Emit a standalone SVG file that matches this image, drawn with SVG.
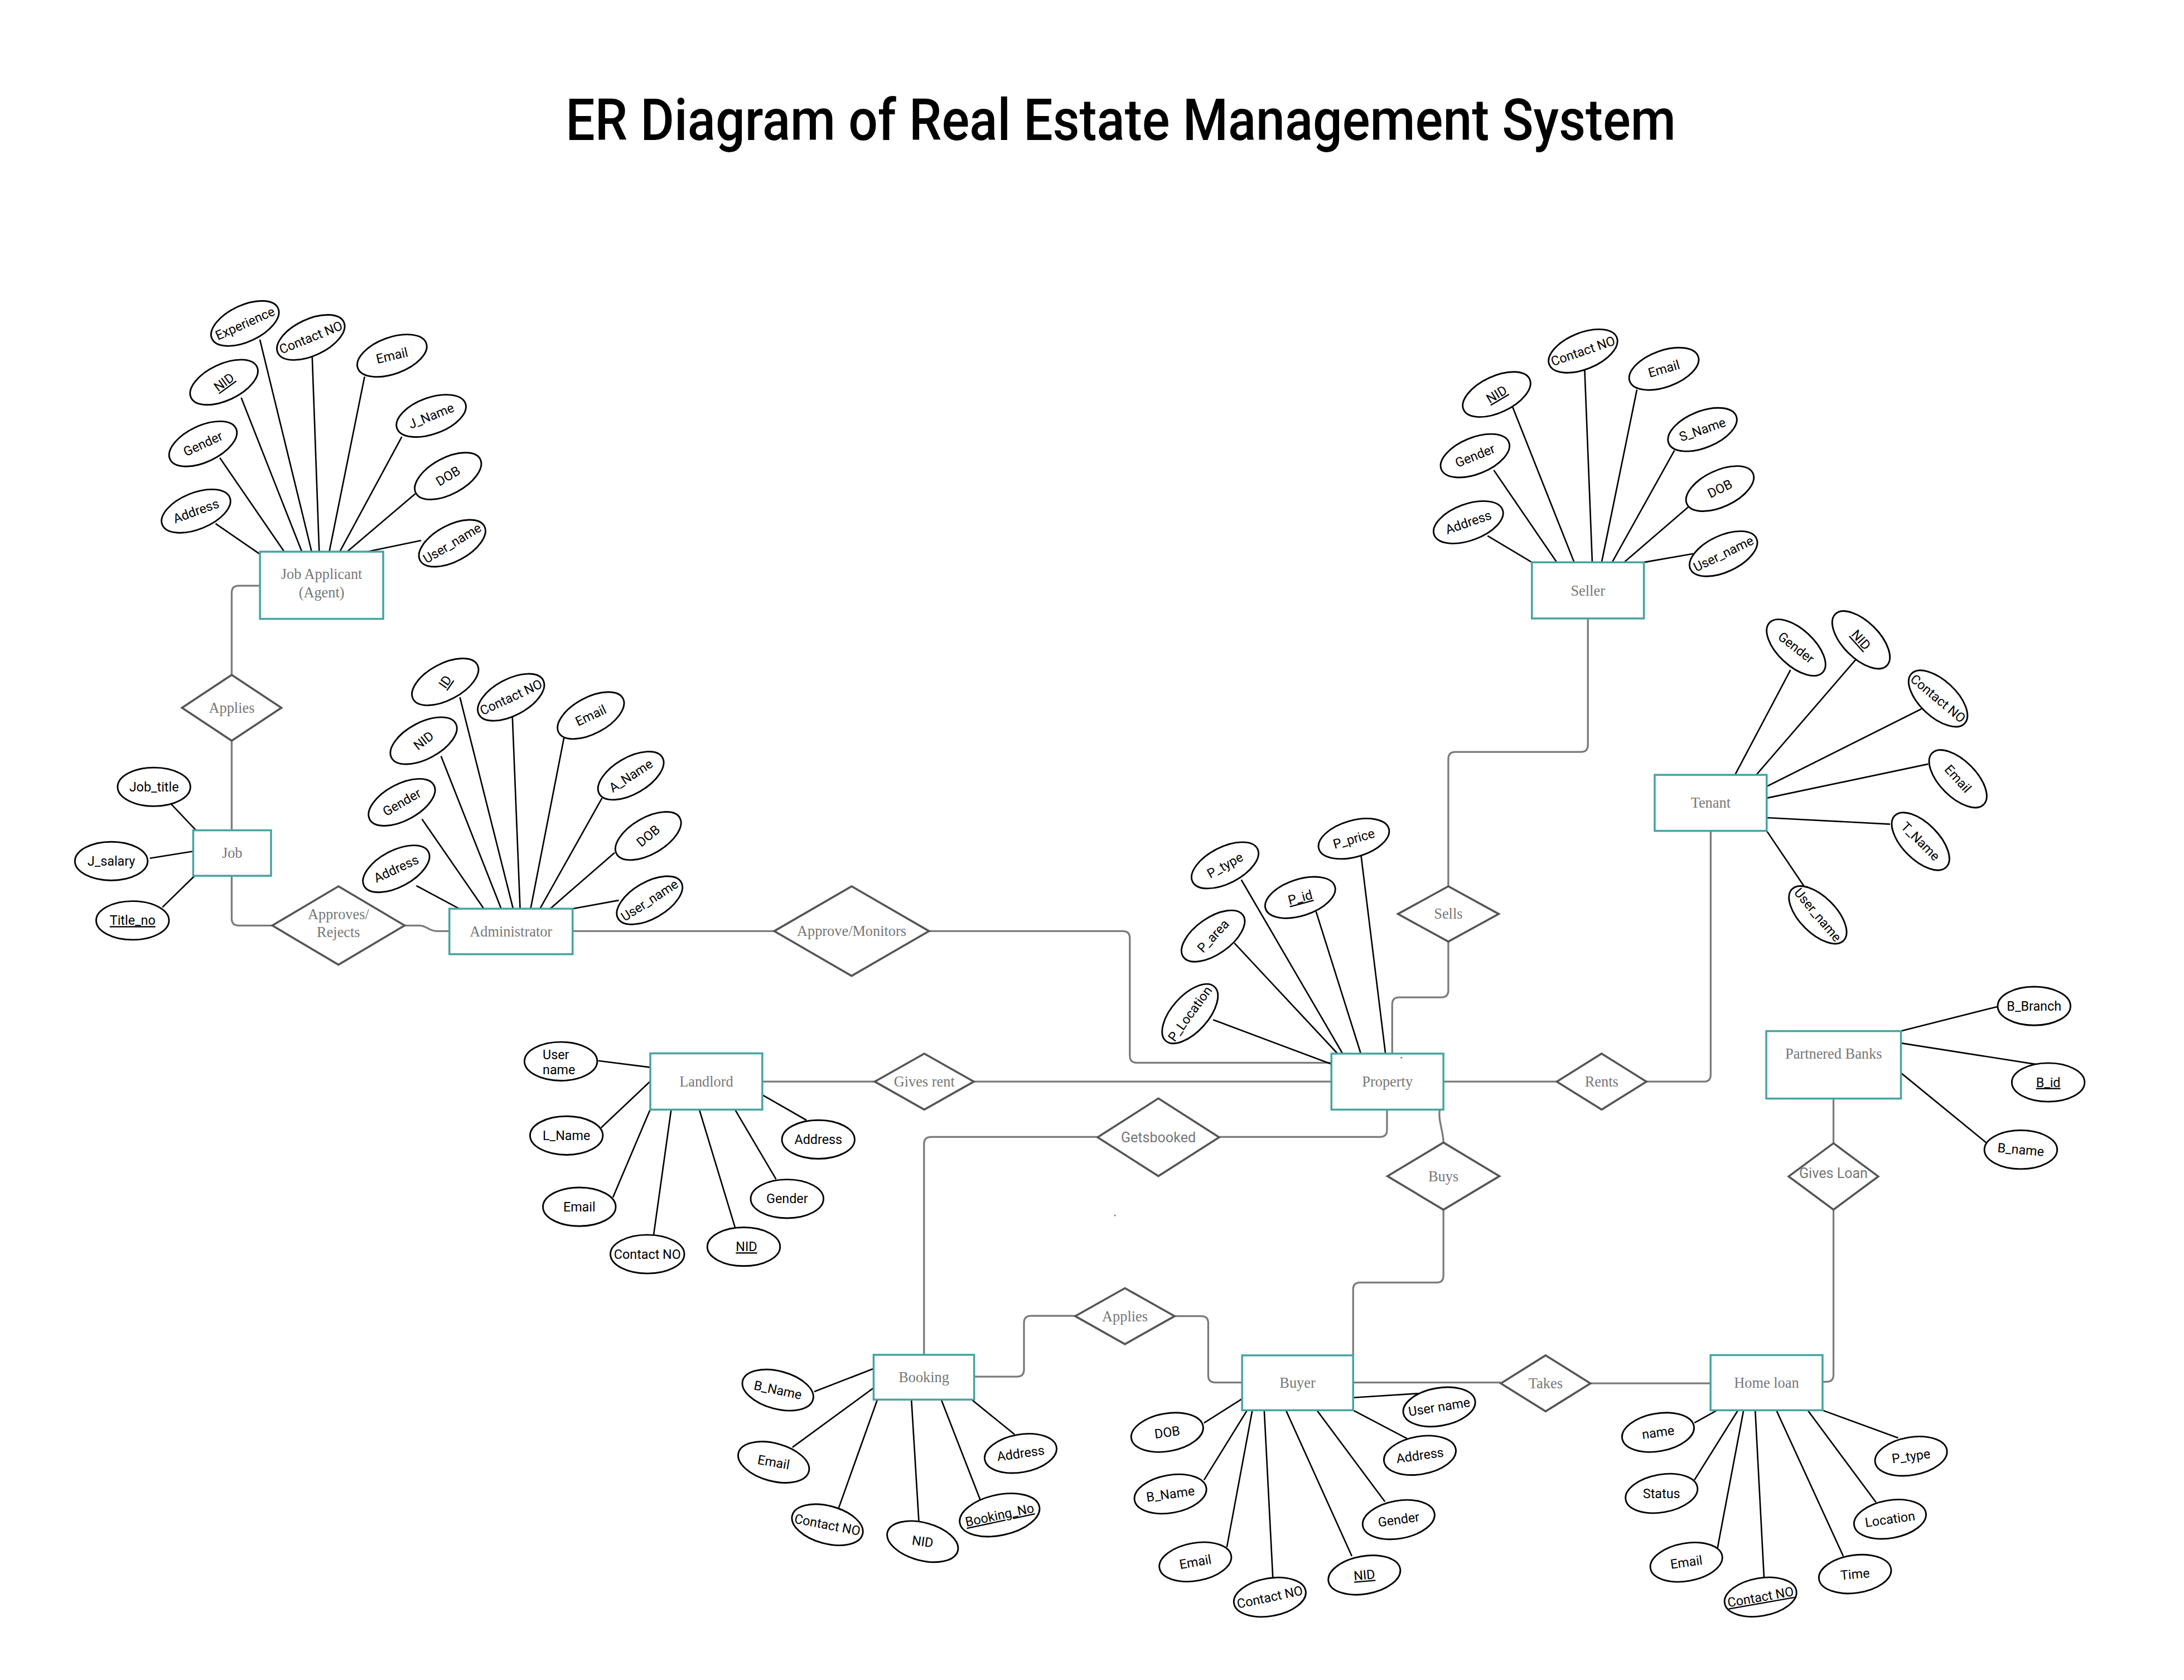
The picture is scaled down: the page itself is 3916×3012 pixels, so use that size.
<svg xmlns="http://www.w3.org/2000/svg" width="3916" height="3012" viewBox="0 0 3916 3012">
<style>
.c{fill:none;stroke:#7a7a7a;stroke-width:1.3}
.l line{stroke:#000;stroke-width:1.05}
.e rect{fill:#fff;stroke:#45a4a2;stroke-width:1.4}
.et{font-family:"Liberation Serif",serif;font-size:10.5px;fill:#767676;text-anchor:middle}
.r polygon{fill:#fff;stroke:#555;stroke-width:1.45}
.rs{font-family:Roboto,"Liberation Sans",sans-serif;font-size:10px;fill:#767676;text-anchor:middle}
.a ellipse{fill:#fff;stroke:#000;stroke-width:1.15}
.a text{font-family:Roboto,"Liberation Sans",sans-serif;font-size:9.3px;fill:#000;text-anchor:middle}
.u{text-decoration:underline}
.title{font-family:Roboto,"DejaVu Sans Condensed",sans-serif;font-weight:500;font-size:41.5px;fill:#000;text-anchor:middle}
</style>
<rect width="3916" height="3012" fill="#fff"/>
<g transform="scale(2.5103)">
<text class="title" x="800.5" y="100" textLength="793" lengthAdjust="spacingAndGlyphs">ER Diagram of Real Estate Management System</text>

<g id="connectors">
<g class="c">
<path d="M185.7,418.3 H170.5 Q165.5,418.3 165.5,423.3 V482"/>
<path d="M165.5,529 V593"/>
<path d="M165.5,625.5 V656 Q165.5,661 170.5,661 H194.5"/>
<path d="M289,661 H299.5 C305,661 306,665 312,665 H321"/>
<path d="M409,665 H553"/>
<path d="M663.6,665 H802 Q807,665 807,670 V754 Q807,759 812,759 H951"/>
<path d="M1134.2,441.7 V532 Q1134.2,537 1129.2,537 H1039.5 Q1034.5,537 1034.5,542 V633"/>
<path d="M1034.5,672.5 V707.3 Q1034.5,712.3 1029.5,712.3 H999.4 Q994.4,712.3 994.4,717.3 V752.5"/>
<path d="M1221.9,593.4 V767.5 Q1221.9,772.5 1216.9,772.5 H1176"/>
<path d="M1112,772.5 H1031"/>
<path d="M544.6,772.5 H624.8"/>
<path d="M695.6,772.5 H951"/>
<path d="M990.7,792.5 V807 Q990.7,812 985.7,812 H870.8"/>
<path d="M784,812 H665 Q660,812 660,817 V967.6"/>
<path d="M1028.4,792.5 C1027,800 1031,808 1031,816"/>
<path d="M1031,864 V911 Q1031,916 1026,916 H971.5 Q966.5,916 966.5,921 V968"/>
<path d="M1309.6,784.6 V816.5"/>
<path d="M1309.6,863.9 V981.9 Q1309.6,986.9 1304.6,986.9 H1301.8"/>
<path d="M695.8,983.2 H726.4 Q731.4,983.2 731.4,978.2 V944.8 Q731.4,939.8 736.4,939.8 H768"/>
<path d="M839,940 H858 Q863,940 863,945 V982.4 Q863,987.4 868,987.4 H887.2"/>
<path d="M966.5,987.4 H1072"/>
<path d="M1136,988 H1221.8"/>
</g>
<g class="l">
<line x1="154" y1="374" x2="186" y2="396"/>
<line x1="157" y1="327" x2="203" y2="394"/>
<line x1="172.3" y1="284" x2="215.6" y2="394"/>
<line x1="185.6" y1="242.5" x2="222.6" y2="394"/>
<line x1="223" y1="255" x2="228" y2="394"/>
<line x1="260.4" y1="269" x2="235.2" y2="394"/>
<line x1="287" y1="312" x2="242.7" y2="394"/>
<line x1="296.6" y1="352.6" x2="248" y2="394"/>
<line x1="300.8" y1="386" x2="262.3" y2="394"/>
<line x1="122" y1="574" x2="140" y2="593"/>
<line x1="107" y1="613" x2="138" y2="608"/>
<line x1="116" y1="648" x2="139" y2="625.5"/>
<line x1="297.4" y1="632.6" x2="328" y2="649"/>
<line x1="301.4" y1="585" x2="345.6" y2="649"/>
<line x1="315" y1="540" x2="358" y2="649"/>
<line x1="328.5" y1="498" x2="366.5" y2="649"/>
<line x1="366" y1="512" x2="371.5" y2="649"/>
<line x1="403" y1="526" x2="379" y2="649"/>
<line x1="430" y1="570" x2="385.7" y2="649"/>
<line x1="439" y1="609" x2="393" y2="649"/>
<line x1="442" y1="643" x2="409" y2="649"/>
<line x1="1062.5" y1="382.7" x2="1094.2" y2="401.6"/>
<line x1="1067" y1="335.8" x2="1112" y2="401.6"/>
<line x1="1080.3" y1="290.4" x2="1124.4" y2="401.6"/>
<line x1="1131.9" y1="264.5" x2="1137.3" y2="401.6"/>
<line x1="1169.2" y1="278.3" x2="1144" y2="401.6"/>
<line x1="1196" y1="321.7" x2="1151.5" y2="401.6"/>
<line x1="1206" y1="362" x2="1160" y2="401.6"/>
<line x1="1209.4" y1="395.5" x2="1174.2" y2="401.6"/>
<line x1="1278.9" y1="478.5" x2="1239.3" y2="553.4"/>
<line x1="1326.1" y1="470.4" x2="1254.5" y2="553.4"/>
<line x1="1372.4" y1="506.3" x2="1261.9" y2="561.7"/>
<line x1="1377.2" y1="545.7" x2="1261.9" y2="570"/>
<line x1="1350" y1="588.6" x2="1261.9" y2="584"/>
<line x1="1288.6" y1="633" x2="1261.9" y2="593.4"/>
<line x1="972" y1="609.6" x2="989.6" y2="752.5"/>
<line x1="940" y1="651" x2="972" y2="752.5"/>
<line x1="886.6" y1="628.3" x2="959" y2="752.5"/>
<line x1="881.7" y1="673.6" x2="955.4" y2="752.5"/>
<line x1="866.5" y1="728.3" x2="951" y2="760"/>
<line x1="427.2" y1="757.6" x2="464.5" y2="762.3"/>
<line x1="429.4" y1="805.4" x2="464.5" y2="772.2"/>
<line x1="437.8" y1="855.2" x2="464.5" y2="792.2"/>
<line x1="466.8" y1="882.5" x2="479.4" y2="792.5"/>
<line x1="525" y1="876.5" x2="499.5" y2="792.5"/>
<line x1="554.3" y1="842.2" x2="525" y2="792.5"/>
<line x1="576" y1="800" x2="544.6" y2="782"/>
<line x1="1357.8" y1="736.4" x2="1426.9" y2="718.9"/>
<line x1="1357.8" y1="745" x2="1455.5" y2="760.3"/>
<line x1="1357.8" y1="766.3" x2="1418.6" y2="816"/>
<line x1="581.6" y1="993.9" x2="624" y2="977.5"/>
<line x1="566" y1="1033.7" x2="624" y2="991.2"/>
<line x1="598.8" y1="1077.7" x2="626.7" y2="999.6"/>
<line x1="656.3" y1="1086.4" x2="651" y2="999.6"/>
<line x1="700.2" y1="1071.3" x2="672.3" y2="999.6"/>
<line x1="724.7" y1="1024.5" x2="694" y2="999.6"/>
<line x1="966.5" y1="998.2" x2="1013.3" y2="995.2"/>
<line x1="966.5" y1="1007.2" x2="1005" y2="1027.4"/>
<line x1="940.6" y1="1007.2" x2="989.2" y2="1072.5"/>
<line x1="918.5" y1="1007.2" x2="965.6" y2="1111.4"/>
<line x1="903" y1="1007.2" x2="909.2" y2="1127.5"/>
<line x1="894.5" y1="1007.2" x2="876.3" y2="1105"/>
<line x1="890.8" y1="1007.2" x2="860" y2="1057"/>
<line x1="887.2" y1="999" x2="860" y2="1016.3"/>
<line x1="1210.3" y1="1016.2" x2="1226.5" y2="1007.2"/>
<line x1="1210.3" y1="1057" x2="1241.4" y2="1007.2"/>
<line x1="1226.8" y1="1105.4" x2="1245.4" y2="1007.2"/>
<line x1="1260" y1="1126.8" x2="1253.7" y2="1007.2"/>
<line x1="1316.6" y1="1111.4" x2="1268.8" y2="1007.2"/>
<line x1="1340" y1="1073" x2="1291.2" y2="1007.2"/>
<line x1="1355.8" y1="1027" x2="1301.8" y2="1007.2"/>
</g>
</g>

<g class="e">
<g id="ent-jobapplicant"><rect x="185.7" y="394" width="88" height="48"/><text class="et" x="229.7" y="413.5">Job Applicant</text><text class="et" x="229.7" y="426.7">(Agent)</text></g>
<g id="ent-job"><rect x="138" y="593" width="55.6" height="32.5"/><text class="et" x="165.8" y="612.8">Job</text></g>
<g id="ent-admin"><rect x="321" y="649" width="88" height="32.5"/><text class="et" x="365" y="668.8">Administrator</text></g>
<g id="ent-seller"><rect x="1094.2" y="401.6" width="80" height="40.1"/><text class="et" x="1134.2" y="425.3">Seller</text></g>
<g id="ent-tenant"><rect x="1181.9" y="553.4" width="80" height="40"/><text class="et" x="1221.9" y="577">Tenant</text></g>
<g id="ent-property"><rect x="951" y="752.5" width="80" height="40"/><text class="et" x="991" y="776.1">Property</text></g>
<g id="ent-landlord"><rect x="464.5" y="752.3" width="80" height="40.2"/><text class="et" x="504.5" y="776">Landlord</text></g>
<g id="ent-banks"><rect x="1261.6" y="736.4" width="96.2" height="48.2"/><text class="et" x="1309.7" y="755.9">Partnered Banks</text></g>
<g id="ent-booking"><rect x="624" y="967.6" width="71.8" height="32"/><text class="et" x="659.9" y="987.2">Booking</text></g>
<g id="ent-buyer"><rect x="887.2" y="968" width="79.3" height="39.2"/><text class="et" x="926.8" y="991.2">Buyer</text></g>
<g id="ent-homeloan"><rect x="1221.8" y="967.8" width="80" height="39.4"/><text class="et" x="1261.8" y="991.1">Home loan</text></g>
</g>

<g class="r">
<g id="rel-applies1"><polygon points="165.5,482 201,505.5 165.5,529 130,505.5"/><text class="et" x="165.5" y="509.1">Applies</text></g>
<g id="rel-approves"><polygon points="241.75,633 289,661 241.75,689 194.5,661"/><text class="et" x="241.75" y="656.7">Approves/</text><text class="et" x="241.75" y="669.1">Rejects</text></g>
<g id="rel-approvemon"><polygon points="608.3,633 663.6,665 608.3,697 553,665"/><text class="et" x="608.3" y="668.6">Approve/Monitors</text></g>
<g id="rel-sells"><polygon points="1034.5,633 1070.5,652.75 1034.5,672.5 998.5,652.75"/><text class="et" x="1034.5" y="656.3">Sells</text></g>
<g id="rel-givesrent"><polygon points="660.2,752.5 695.6,772.5 660.2,792.5 624.8,772.5"/><text class="et" x="660.2" y="776.1">Gives rent</text></g>
<g id="rel-rents"><polygon points="1144,752.5 1176,772.5 1144,792.5 1112,772.5"/><text class="et" x="1144" y="776.1">Rents</text></g>
<g id="rel-getsbooked"><polygon points="827.4,784.5 870.8,812.25 827.4,840 784,812.25"/><text class="rs" x="827.4" y="815.8" font-size="10.5">Getsbooked</text></g>
<g id="rel-buys"><polygon points="1031,816 1071,840 1031,864 991,840"/><text class="et" x="1031" y="843.6">Buys</text></g>
<g id="rel-givesloan"><polygon points="1309.6,816.5 1341.6,840.2 1309.6,863.9 1277.6,840.2"/><text class="rs" x="1309.6" y="841.5" font-size="9.5">Gives Loan</text></g>
<g id="rel-applies2"><polygon points="803.5,920 839,940 803.5,960 768,940"/><text class="et" x="803.5" y="943.6">Applies</text></g>
<g id="rel-takes"><polygon points="1104,968 1136,988 1104,1008 1072,988"/><text class="et" x="1104" y="991.6">Takes</text></g>
</g>

<g class="a">
<g id="ja-experience" transform="translate(175,231)"><ellipse rx="26" ry="13" transform="rotate(-25)"/><text transform="rotate(-24)" dy="3.2">Experience</text></g>
<g id="ja-contact" transform="translate(222,241)"><ellipse rx="26" ry="13" transform="rotate(-25)"/><text transform="rotate(-22)" dy="3.2">Contact NO</text></g>
<g id="ja-email" transform="translate(280,254)"><ellipse rx="26" ry="13" transform="rotate(-20)"/><text transform="rotate(-13)" dy="3.2">Email</text></g>
<g id="ja-nid" transform="translate(160,273)"><ellipse rx="26" ry="13" transform="rotate(-25)"/><text class="u" transform="rotate(-36)" dy="3.2">NID</text></g>
<g id="ja-jname" transform="translate(308,297)"><ellipse rx="26" ry="13" transform="rotate(-20)"/><text transform="rotate(-22)" dy="3.2">J_Name</text></g>
<g id="ja-gender" transform="translate(145,317)"><ellipse rx="26" ry="13" transform="rotate(-25)"/><text transform="rotate(-25)" dy="3.2">Gender</text></g>
<g id="ja-dob" transform="translate(320,340)"><ellipse rx="26" ry="13" transform="rotate(-28)"/><text transform="rotate(-31)" dy="3.2">DOB</text></g>
<g id="ja-address" transform="translate(140,365)"><ellipse rx="26" ry="13" transform="rotate(-22)"/><text transform="rotate(-20)" dy="3.2">Address</text></g>
<g id="ja-username" transform="translate(323,388)"><ellipse rx="26" ry="13" transform="rotate(-28)"/><text transform="rotate(-31)" dy="3.2">User_name</text></g>

<g id="job-title" transform="translate(110,562)"><ellipse rx="26" ry="13.8"/><text dy="3.2">Job_title</text></g>
<g id="job-salary" transform="translate(79.5,615)"><ellipse rx="26" ry="13.8"/><text dy="3.2">J_salary</text></g>
<g id="job-titleno" transform="translate(94.7,657.4)"><ellipse rx="26" ry="13.8"/><text class="u" dy="3.2">Title_no</text></g>

<g id="ad-id" transform="translate(318,487)"><ellipse rx="26" ry="13" transform="rotate(-28)"/><text class="u" transform="rotate(-55)" dy="3.2">ID</text></g>
<g id="ad-contact" transform="translate(365,498)"><ellipse rx="26" ry="13" transform="rotate(-28)"/><text transform="rotate(-25)" dy="3.2">Contact NO</text></g>
<g id="ad-email" transform="translate(422,511)"><ellipse rx="26" ry="13" transform="rotate(-28)"/><text transform="rotate(-25)" dy="3.2">Email</text></g>
<g id="ad-nid" transform="translate(302.6,529)"><ellipse rx="26" ry="13" transform="rotate(-28)"/><text transform="rotate(-38)" dy="3.2">NID</text></g>
<g id="ad-aname" transform="translate(450.6,554)"><ellipse rx="26" ry="13" transform="rotate(-30)"/><text transform="rotate(-33)" dy="3.2">A_Name</text></g>
<g id="ad-gender" transform="translate(287,573)"><ellipse rx="26" ry="13" transform="rotate(-28)"/><text transform="rotate(-30)" dy="3.2">Gender</text></g>
<g id="ad-dob" transform="translate(463,597)"><ellipse rx="26" ry="13" transform="rotate(-30)"/><text transform="rotate(-40)" dy="3.2">DOB</text></g>
<g id="ad-address" transform="translate(283,620.5)"><ellipse rx="26" ry="13" transform="rotate(-28)"/><text transform="rotate(-25)" dy="3.2">Address</text></g>
<g id="ad-username" transform="translate(464,643)"><ellipse rx="26" ry="13" transform="rotate(-30)"/><text transform="rotate(-33)" dy="3.2">User_name</text></g>

<g id="se-contact" transform="translate(1130.7,250.7)"><ellipse rx="26" ry="13" transform="rotate(-22)"/><text transform="rotate(-19)" dy="3.2">Contact NO</text></g>
<g id="se-email" transform="translate(1188.5,263.4)"><ellipse rx="26" ry="13" transform="rotate(-20)"/><text transform="rotate(-16)" dy="3.2">Email</text></g>
<g id="se-nid" transform="translate(1069,281.7)"><ellipse rx="26" ry="13" transform="rotate(-25)"/><text class="u" transform="rotate(-31)" dy="3.2">NID</text></g>
<g id="se-sname" transform="translate(1216,306.8)"><ellipse rx="26" ry="13" transform="rotate(-22)"/><text transform="rotate(-19)" dy="3.2">S_Name</text></g>
<g id="se-gender" transform="translate(1053.6,325.5)"><ellipse rx="26" ry="13" transform="rotate(-22)"/><text transform="rotate(-22)" dy="3.2">Gender</text></g>
<g id="se-dob" transform="translate(1228.5,349)"><ellipse rx="26" ry="13" transform="rotate(-25)"/><text transform="rotate(-26)" dy="3.2">DOB</text></g>
<g id="se-address" transform="translate(1048.8,373)"><ellipse rx="26" ry="13" transform="rotate(-20)"/><text transform="rotate(-19)" dy="3.2">Address</text></g>
<g id="se-username" transform="translate(1231,395.5)"><ellipse rx="26" ry="13" transform="rotate(-25)"/><text transform="rotate(-26)" dy="3.2">User_name</text></g>

<g id="te-gender" transform="translate(1282.9,462.5)"><ellipse rx="26" ry="13" transform="rotate(43)"/><text transform="rotate(38)" dy="3.2">Gender</text></g>
<g id="te-nid" transform="translate(1329.3,457)"><ellipse rx="26" ry="13" transform="rotate(45)"/><text class="u" transform="rotate(48)" dy="3.2">NID</text></g>
<g id="te-contact" transform="translate(1384.3,498.9)"><ellipse rx="26" ry="13" transform="rotate(43)"/><text transform="rotate(40)" dy="3.2">Contact NO</text></g>
<g id="te-email" transform="translate(1398.5,556.2)"><ellipse rx="26" ry="13" transform="rotate(45)"/><text transform="rotate(48)" dy="3.2">Email</text></g>
<g id="te-tname" transform="translate(1371.8,600.9)"><ellipse rx="26" ry="13" transform="rotate(45)"/><text transform="rotate(45)" dy="3.2">T_Name</text></g>
<g id="te-username" transform="translate(1298.4,653.4)"><ellipse rx="26" ry="13" transform="rotate(45)"/><text transform="rotate(50)" dy="3.2">User_name</text></g>

<g id="pr-price" transform="translate(967,599)"><ellipse rx="26" ry="13" transform="rotate(-16)"/><text transform="rotate(-16)" dy="3.2">P_price</text></g>
<g id="pr-type" transform="translate(875,618)"><ellipse rx="26" ry="13" transform="rotate(-27)"/><text transform="rotate(-29)" dy="3.2">P_type</text></g>
<g id="pr-id" transform="translate(928.7,641)"><ellipse rx="26" ry="13" transform="rotate(-18)"/><text class="u" transform="rotate(-15)" dy="3.2">P_id</text></g>
<g id="pr-area" transform="translate(866.5,668.5)"><ellipse rx="26" ry="13" transform="rotate(-35)"/><text transform="rotate(-47)" dy="3.2">P_area</text></g>
<g id="pr-location" transform="translate(850,724)"><ellipse rx="26" ry="13" transform="rotate(-48)"/><text transform="rotate(-54)" dy="3.2">P_Location</text></g>

<g id="ll-username" transform="translate(400.6,758)"><ellipse rx="26" ry="13.8"/><text x="-13" y="-1.7" style="text-anchor:start">User</text><text x="-13" y="9.3" style="text-anchor:start">name</text></g>
<g id="ll-lname" transform="translate(404.6,811)"><ellipse rx="26" ry="13.8"/><text dy="3.2">L_Name</text></g>
<g id="ll-email" transform="translate(413.8,861.9)"><ellipse rx="26" ry="13.8"/><text dy="3.2">Email</text></g>
<g id="ll-contact" transform="translate(462.4,895.7)"><ellipse rx="26.4" ry="13.8"/><text dy="3.2">Contact NO</text></g>
<g id="ll-nid" transform="translate(531.2,890.4)"><ellipse rx="26" ry="13.8"/><text class="u" x="2" dy="3.2">NID</text></g>
<g id="ll-gender" transform="translate(562.2,856.2)"><ellipse rx="26" ry="13.8"/><text dy="3.2">Gender</text></g>
<g id="ll-address" transform="translate(584.5,813.8)"><ellipse rx="26" ry="13.8"/><text dy="3.2">Address</text></g>

<g id="pb-branch" transform="translate(1452.9,718.5)"><ellipse rx="26" ry="13.8"/><text dy="3.2">B_Branch</text></g>
<g id="pb-id" transform="translate(1463,773)"><ellipse rx="26" ry="13.8"/><text class="u" dy="3.2">B_id</text></g>
<g id="pb-name" transform="translate(1443.4,821.1)"><ellipse rx="26" ry="13.8"/><text transform="rotate(5)" dy="3.2">B_name</text></g>

<g id="bk-bname" transform="translate(555.6,992.8)"><ellipse rx="26" ry="13.5" transform="rotate(15)"/><text transform="rotate(12)" dy="3.2">B_Name</text></g>
<g id="bk-email" transform="translate(552.6,1044.3)"><ellipse rx="26" ry="13.5" transform="rotate(15)"/><text transform="rotate(10)" dy="3.2">Email</text></g>
<g id="bk-contact" transform="translate(591,1089)"><ellipse rx="26" ry="13.5" transform="rotate(15)"/><text transform="rotate(11)" dy="3.2">Contact NO</text></g>
<g id="bk-nid" transform="translate(659,1101)"><ellipse rx="26" ry="13.5" transform="rotate(15)"/><text transform="rotate(8)" dy="3.2">NID</text></g>
<g id="bk-bookingno" transform="translate(714,1082)"><ellipse rx="29" ry="14.5" transform="rotate(-12)"/><text class="u" transform="rotate(-12)" dy="3.2">Booking_No</text></g>
<g id="bk-address" transform="translate(729,1038)"><ellipse rx="26" ry="13.5" transform="rotate(-10)"/><text transform="rotate(-8)" dy="3.2">Address</text></g>

<g id="by-username" transform="translate(1028,1004.8)"><ellipse rx="26" ry="13.5" transform="rotate(-10)"/><text transform="rotate(-9)" dy="3.2">User name</text></g>
<g id="by-address" transform="translate(1014.2,1039.4)"><ellipse rx="26" ry="13.5" transform="rotate(-10)"/><text transform="rotate(-8)" dy="3.2">Address</text></g>
<g id="by-gender" transform="translate(999,1085.3)"><ellipse rx="26" ry="13.5" transform="rotate(-10)"/><text transform="rotate(-8)" dy="3.2">Gender</text></g>
<g id="by-nid" transform="translate(974.5,1124.9)"><ellipse rx="26" ry="13.5" transform="rotate(-10)"/><text class="u" transform="rotate(-5)" dy="3.2">NID</text></g>
<g id="by-contact" transform="translate(907,1140.7)"><ellipse rx="26" ry="13.5" transform="rotate(-10)"/><text transform="rotate(-12)" dy="3.2">Contact NO</text></g>
<g id="by-email" transform="translate(853.8,1115.5)"><ellipse rx="26" ry="13.5" transform="rotate(-10)"/><text transform="rotate(-10)" dy="3.2">Email</text></g>
<g id="by-bname" transform="translate(836,1067)"><ellipse rx="26" ry="13.5" transform="rotate(-10)"/><text transform="rotate(-8)" dy="3.2">B_Name</text></g>
<g id="by-dob" transform="translate(833.7,1023)"><ellipse rx="26" ry="13.5" transform="rotate(-10)"/><text transform="rotate(-8)" dy="3.2">DOB</text></g>

<g id="hl-name" transform="translate(1184.3,1023)"><ellipse rx="26" ry="13.5" transform="rotate(-10)"/><text transform="rotate(-8)" dy="3.2">name</text></g>
<g id="hl-status" transform="translate(1186.8,1066.6)"><ellipse rx="26" ry="13.5" transform="rotate(-10)"/><text dy="3.2">Status</text></g>
<g id="hl-email" transform="translate(1204.5,1115.7)"><ellipse rx="26" ry="13.5" transform="rotate(-10)"/><text transform="rotate(-8)" dy="3.2">Email</text></g>
<g id="hl-contact" transform="translate(1257.5,1140.6)"><ellipse rx="26" ry="13.5" transform="rotate(-10)"/><text class="u" transform="rotate(-10)" dy="3.2">Contact NO</text></g>
<g id="hl-time" transform="translate(1325,1124.2)"><ellipse rx="26" ry="13.5" transform="rotate(-8)"/><text transform="rotate(-5)" dy="3.2">Time</text></g>
<g id="hl-location" transform="translate(1350,1085)"><ellipse rx="26" ry="13.5" transform="rotate(-10)"/><text transform="rotate(-8)" dy="3.2">Location</text></g>
<g id="hl-ptype" transform="translate(1365,1040)"><ellipse rx="26" ry="13.5" transform="rotate(-10)"/><text transform="rotate(-8)" dy="3.2">P_type</text></g>
</g>

<circle cx="1001" cy="755.4" r="0.6" fill="#777"/>
<circle cx="796.4" cy="868" r="0.6" fill="#777"/>
</g>
</svg>
